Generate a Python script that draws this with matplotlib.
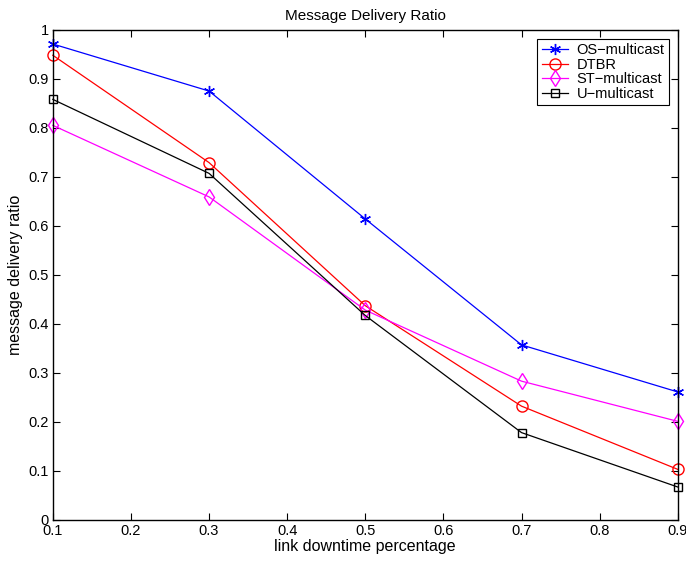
import matplotlib
matplotlib.use("Agg")
import matplotlib.pyplot as plt
import numpy as np

plt.rcParams['font.family'] = ['Liberation Sans', 'DejaVu Sans']

# link downtime percentage
x = [0.1, 0.3, 0.5, 0.7, 0.9]

os_multicast = [0.971, 0.875, 0.614, 0.357, 0.261]
dtbr = [0.948, 0.729, 0.437, 0.232, 0.103]
st_multicast = [0.805, 0.659, 0.428, 0.283, 0.201]
u_multicast = [0.858, 0.707, 0.417, 0.178, 0.067]

labels = ['OS\u2212multicast', 'DTBR', 'ST\u2212multicast', 'U\u2212multicast']

fig = plt.figure(figsize=(6.86, 5.62), dpi=100)
ax = fig.add_axes([0.077, 0.075, 0.911, 0.872])

# asterisk like the matlab '*' marker
ax.plot(x, os_multicast, color='blue', marker=(6, 2, 0), markersize=8, mew=1.0, lw=0.9,
        label=labels[0], clip_on=False)
ax.plot(x, dtbr, color='red', marker='o', markersize=8, mfc='none', lw=0.9,
        label=labels[1], clip_on=False)
ax.plot(x, st_multicast, color='magenta', marker='d', markersize=8, mfc='none', lw=0.9,
        label=labels[2], clip_on=False)
ax.plot(x, u_multicast, color='black', marker='s', markersize=6, mfc='none', lw=0.9,
        label=labels[3], clip_on=False)

ax.set_xlim(0.1, 0.9)
ax.set_ylim(0, 1)
ax.set_xticks(np.arange(0.1, 0.91, 0.1))
ax.set_xticklabels(['0.1', '0.2', '0.3', '0.4', '0.5', '0.6', '0.7', '0.8', '0.9'])
ax.set_yticks(np.arange(0, 1.01, 0.1))
ax.set_yticklabels(['0', '0.1', '0.2', '0.3', '0.4', '0.5', '0.6', '0.7', '0.8', '0.9', '1'])
ax.tick_params(direction='in', top=True, right=True, labelsize=10.5, length=5, width=0.8, pad=3)
for s in ax.spines.values():
    s.set_linewidth(1.0)

ax.set_title('Message Delivery Ratio', fontsize=11, pad=7)
ax.set_xlabel('link downtime percentage', fontsize=11.5, labelpad=1)
ax.set_ylabel('message delivery ratio', fontsize=11.5, labelpad=4)

leg = ax.legend(loc='upper right', fontsize=10.5, handlelength=1.8, borderpad=0.3,
                labelspacing=0.05, handletextpad=0.6, fancybox=False,
                edgecolor='black', framealpha=1, borderaxespad=0.6)
leg.get_frame().set_linewidth(0.8)

fig.savefig('out.png', dpi=100)
